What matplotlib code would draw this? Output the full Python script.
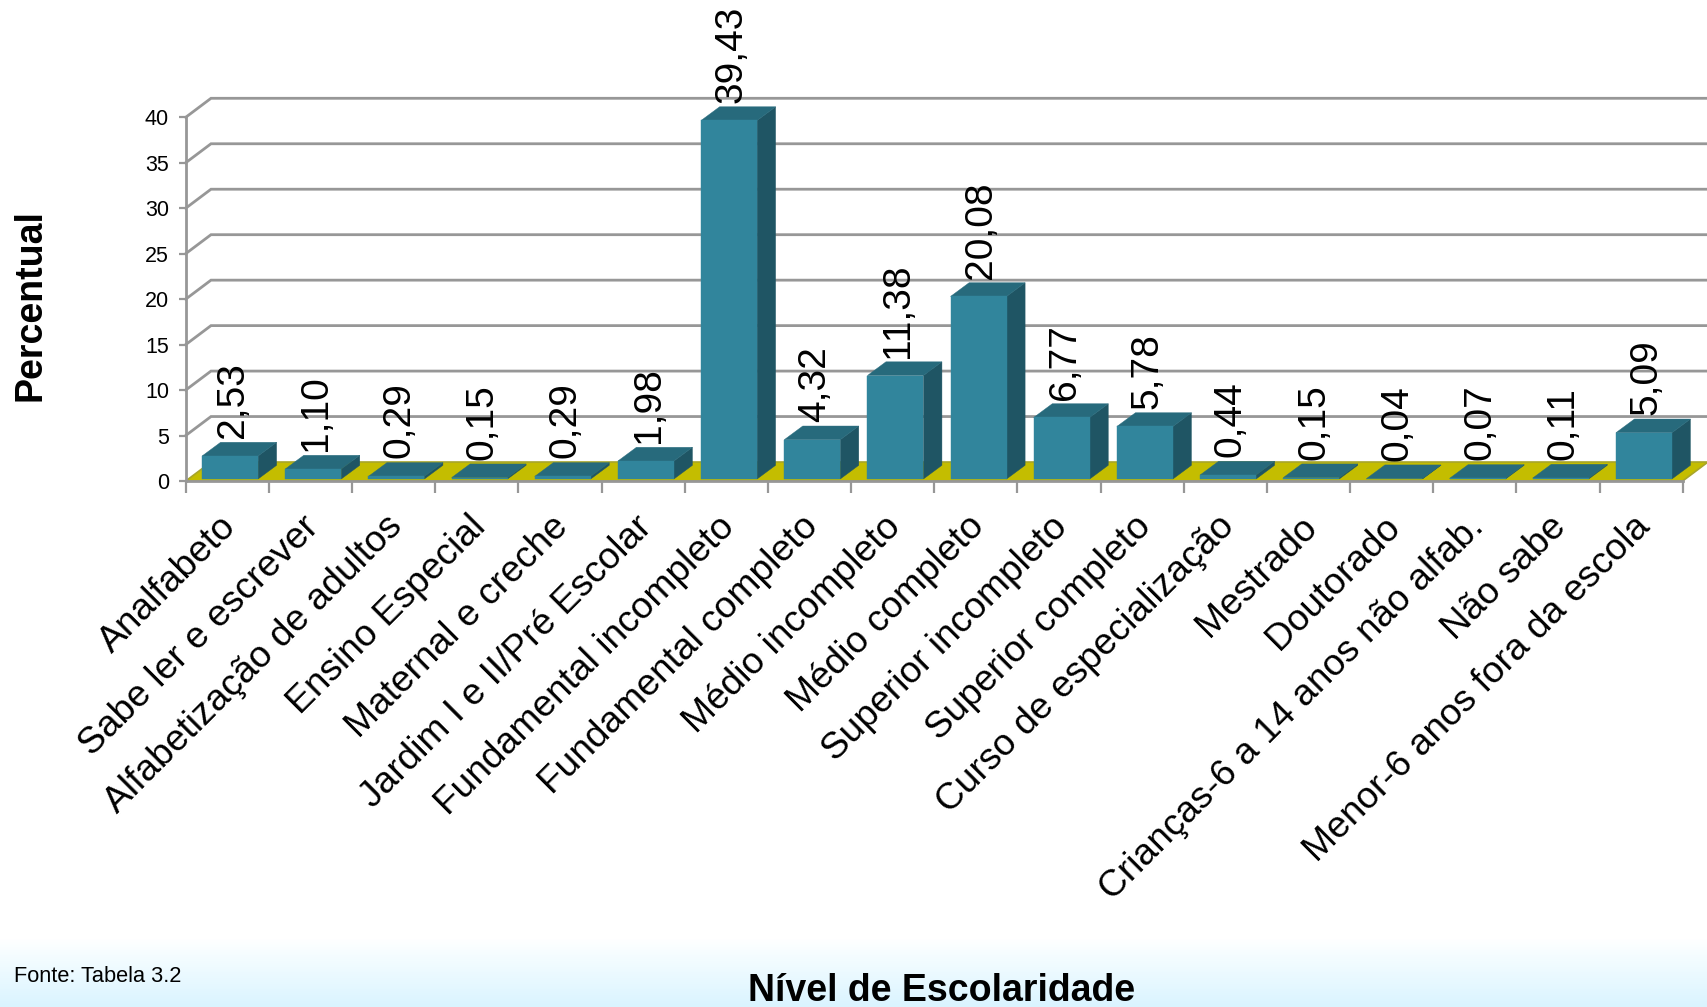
import numpy as np
import matplotlib
matplotlib.use("Agg")
import matplotlib.pyplot as plt
from matplotlib.patches import Polygon
from matplotlib.colors import LinearSegmentedColormap
from matplotlib.transforms import ScaledTranslation

categories = ["Analfabeto", "Sabe ler e escrever", "Alfabetização de adultos", "Ensino Especial",
              "Maternal e creche", "Jardim I e II/Pré Escolar", "Fundamental incompleto",
              "Fundamental completo", "Médio incompleto", "Médio completo", "Superior incompleto",
              "Superior completo", "Curso de especialização", "Mestrado", "Doutorado",
              "Crianças-6 a 14 anos não alfab.", "Não sabe", "Menor-6 anos fora da escola"]
values = [2.53, 1.10, 0.29, 0.15, 0.29, 1.98, 39.43, 4.32, 11.38, 20.08, 6.77, 5.78,
          0.44, 0.15, 0.04, 0.07, 0.11, 5.09]
value_labels = ["2,53", "1,10", "0,29", "0,15", "0,29", "1,98", "39,43", "4,32", "11,38", "20,08",
                "6,77", "5,78", "0,44", "0,15", "0,04", "0,07", "0,11", "5,09"]
y_ticks = [0, 5, 10, 15, 20, 25, 30, 35, 40]

plt.rcParams['font.family'] = ['Liberation Sans', 'DejaVu Sans']
W, H = 1707, 1007
fig = plt.figure(figsize=(W / 100, H / 100), dpi=100, facecolor='white')

# background gradient
bg = fig.add_axes([0, 0, 1, 1], zorder=-1)
bg.axis('off')
cmap = LinearSegmentedColormap.from_list('bg', [(0, '#FFFFFF'), (0.25, '#F5FDFF'), (1, '#DAF4FF')])
grad = np.concatenate([np.zeros(938), np.linspace(0, 1, H - 938)])[:, None]
bg.imshow(grad, aspect='auto', cmap=cmap, vmin=0, vmax=1, extent=[0, 1, 0, 1])

L, R, B, T = 185.7, 1682.7, 481.0, 117.3
ax = fig.add_axes([L / W, 1 - B / H, (R - L) / W, (B - T) / H])
ax.patch.set_alpha(0)
n = len(categories)
ax.set_xlim(0, n)
ax.set_ylim(0, 40)
px_x = n / (R - L)
px_y = 40 / (B - T)

GRID = '#979797'
FRONT, TOP, SIDE = '#31859C', '#276A7C', '#1F5564'
FLOOR = '#C4BD00'
wall_dx, wall_dy = 25.3 * px_x, 19 * px_y

# walls
for y in y_ticks[1:]:
    ax.plot([0, wall_dx, n + wall_dx], [y, y + wall_dy, y + wall_dy], color=GRID, lw=2,
            clip_on=False, zorder=1, solid_joinstyle='miter')
# floor
ax.add_patch(Polygon([(0, 0), (n, 0), (n + wall_dx, wall_dy), (wall_dx, wall_dy)], closed=True,
                     facecolor=FLOOR, edgecolor='#A8A52A', lw=1.2, clip_on=False, zorder=2))

# bars
base = 2 * px_y
x_off = 16.4 * px_x
bw = 56 * px_x
bx, by = 18.5 * px_x, 13.7 * px_y
for i, (v, lab) in enumerate(zip(values, value_labels)):
    x0, x1 = i + x_off, i + x_off + bw
    y0, y1 = base, v + base
    ax.add_patch(Polygon([(x1, y0), (x1 + bx, y0 + by), (x1 + bx, y1 + by), (x1, y1)],
                         facecolor=SIDE, edgecolor=SIDE, lw=0.3, clip_on=False, zorder=3))
    ax.add_patch(Polygon([(x0, y1), (x1, y1), (x1 + bx, y1 + by), (x0 + bx, y1 + by)],
                         facecolor=TOP, edgecolor=TOP, lw=0.3, clip_on=False, zorder=3))
    ax.add_patch(Polygon([(x0, y0), (x1, y0), (x1, y1), (x0, y1)],
                         facecolor=FRONT, edgecolor=FRONT, lw=0.3, clip_on=False, zorder=4))
    ax.annotate(lab, xy=(i + 0.5, y1 + by), xytext=(4, 3), textcoords='offset points',
                rotation=90, ha='center', va='bottom', fontsize=28, color='black',
                annotation_clip=False, zorder=6)

# axes
for s in ['top', 'right']:
    ax.spines[s].set_visible(False)
for s in ['left', 'bottom']:
    ax.spines[s].set_color(GRID)
    ax.spines[s].set_linewidth(2)
    ax.spines[s].set_zorder(5)
ax.set_yticks(y_ticks)
ax.tick_params(axis='y', length=5, width=1.6, color=GRID, labelsize=15.5, pad=7, labelcolor='black')
ax.set_xticks(np.arange(n + 1))
ax.set_xticklabels([])
ax.tick_params(axis='x', which='major', length=8.5, width=1.6, color=GRID)
ax.set_xticks(np.arange(n) + 0.5, minor=True)
ax.set_xticklabels(categories, minor=True, rotation=45, ha='right', va='top',
                   rotation_mode='anchor', fontsize=26.7, color='black')
ax.tick_params(axis='x', which='minor', length=0, pad=20.3)
shift = ScaledTranslation(-6.5 / 72, 0, fig.dpi_scale_trans)
for t in ax.get_xticklabels(minor=True):
    t.set_transform(t.get_transform() + shift)

fig.text(31 / W, 1 - 305 / H, "Percentual", rotation=90, ha='center', va='center',
         fontsize=27, fontweight='bold', color='black')
fig.text(942 / W, 1 - 991 / H, "Nível de Escolaridade", ha='center', va='center',
         fontsize=27, fontweight='bold', color='black')
fig.text(14 / W, 1 - 976 / H, "Fonte: Tabela 3.2", ha='left', va='center', fontsize=15.7, color='black')

fig.savefig('out.png', dpi=100)
